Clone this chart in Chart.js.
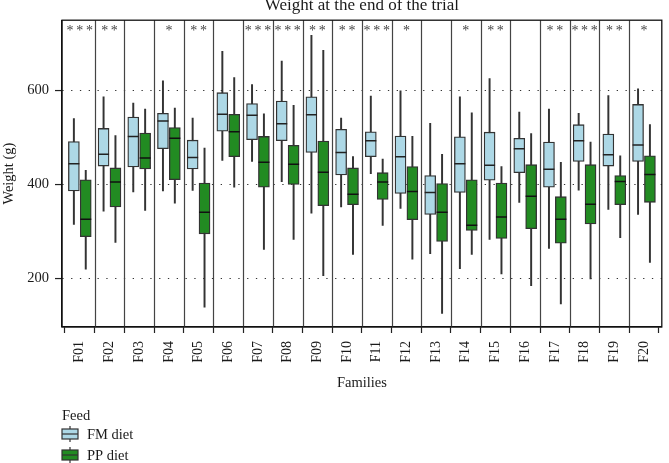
<!DOCTYPE html>
<html>
<head>
<meta charset="utf-8">
<script src="https://cdn.jsdelivr.net/npm/chart.js@4.4.1/dist/chart.umd.min.js"></script>
<style>
  html, body { margin: 0; padding: 0; background: #fff; }
  #wrap { width: 669px; height: 463px; }
</style>
</head>
<body>
<div id="wrap"><canvas id="weightChart" width="669" height="463"></canvas></div>
<script>
// data
const families = ['F01','F02','F03','F04','F05','F06','F07','F08','F09','F10',
                  'F11','F12','F13','F14','F15','F16','F17','F18','F19','F20'];

// FM diet: whisker low, Q1, median, Q3, whisker high
const fmLow  = [315, 343, 384, 386, 387, 451, 449, 406, 339, 352, 423, 349, 253, 221, 283, 362, 264, 388, 347, 336];
const fmQ1   = [386, 439, 437, 476, 433, 513, 495, 493, 468, 420, 459, 381, 336, 383, 409, 425, 394, 449, 439, 449];
const fmMed  = [444, 464, 502, 535, 457, 549, 547, 529, 548, 468, 493, 459, 383, 444, 441, 476, 432, 493, 463, 484];
const fmQ3   = [491, 519, 543, 551, 494, 595, 572, 577, 586, 517, 512, 503, 419, 501, 511, 498, 490, 527, 507, 570];
const fmHigh = [540, 586, 573, 620, 541, 683, 612, 662, 717, 541, 588, 599, 530, 586, 625, 554, 560, 551, 589, 603];

// PP diet
const ppLow  = [220, 277, 345, 360, 139, 394, 262, 283, 206, 251, 313, 241, 126, 251, 210, 185, 146, 199, 287, 234];
const ppQ1   = [289, 352, 433, 410, 295, 459, 394, 400, 355, 357, 368, 325, 279, 302, 285, 306, 275, 316, 357, 362];
const ppMed  = [326, 405, 456, 498, 341, 512, 447, 443, 426, 379, 405, 385, 341, 313, 331, 375, 326, 358, 406, 421];
const ppQ3   = [410, 435, 509, 521, 403, 549, 502, 483, 492, 435, 425, 438, 402, 410, 403, 442, 374, 442, 419, 461];
const ppHigh = [430, 504, 560, 562, 477, 627, 550, 568, 685, 459, 454, 502, 464, 552, 438, 508, 447, 490, 461, 527];

const stars  = ['***','**','','*','**','','***','***','**','**','***','*','','*','**','','**','***','**','*'];
const yTicks = [200, 400, 600];

const FM_COL = '#ADD8E6';
const PP_COL = '#228B22';
const EDGE = '#333333';
const DODGE = 0.2;

Chart.defaults.font.family = "'Liberation Serif', 'DejaVu Serif', serif";
Chart.defaults.color = '#1a1a1a';

const pos = (i, side) => i + 1 + side * DODGE;

function whiskers(lo, hi, side) {
  return families.map((f, i) => ({ x: pos(i, side), y: [lo[i], hi[i]] }));
}
function boxes(q1, q3, side) {
  return families.map((f, i) => ({ x: pos(i, side), y: [q1[i], q3[i]] }));
}
function medians(med, side) {
  return families.map((f, i) => ({ x: pos(i, side), y: med[i] }));
}

// separators, panel frame, significance stars and the legend
const decorations = {
  id: 'decorations',
  beforeDatasetsDraw(chart) {
    const { ctx, chartArea: a, scales: { x } } = chart;
    ctx.save();
    ctx.strokeStyle = '#444';
    ctx.lineWidth = 1.2;
    for (let i = 1; i < families.length; i++) {
      const px = Math.round(x.getPixelForValue(i + 0.5)) + 0.5;
      ctx.beginPath();
      ctx.moveTo(px, a.top);
      ctx.lineTo(px, a.bottom);
      ctx.stroke();
    }
    ctx.restore();
  },
  afterDatasetsDraw(chart) {
    const { ctx, chartArea: a, scales: { x } } = chart;
    ctx.save();
    ctx.strokeStyle = '#111';
    ctx.lineWidth = 1.3;
    ctx.strokeRect(a.left, a.top, a.right - a.left, a.bottom - a.top);

    ctx.fillStyle = '#444';
    ctx.font = "14px 'Liberation Serif'";
    ctx.textAlign = 'center';
    ctx.textBaseline = 'alphabetic';
    stars.forEach((s, i) => {
      const cx = x.getPixelForValue(i + 1);
      const n = s.length;
      for (let k = 0; k < n; k++) {
        ctx.fillText('*', cx + (k - (n - 1) / 2) * 9.7, a.top + 15);
      }
    });
    ctx.restore();
  },
  afterDraw(chart) {
    const { ctx } = chart;
    ctx.save();
    ctx.fillStyle = '#1a1a1a';
    ctx.font = "14.5px 'Liberation Serif'";
    ctx.textAlign = 'left';
    ctx.textBaseline = 'alphabetic';
    ctx.fillText('Feed', 62, 420);
    const items = [['FM diet', FM_COL, 439], ['PP diet', PP_COL, 460]];
    items.forEach(([label, col, base]) => {
      const top = base - 10, h = 10, l = 62, w = 16;
      ctx.strokeStyle = EDGE;
      ctx.lineWidth = 1.2;
      ctx.beginPath();
      ctx.moveTo(l + w / 2, top - 3);
      ctx.lineTo(l + w / 2, top + h + 3);
      ctx.stroke();
      ctx.fillStyle = col;
      ctx.fillRect(l, top, w, h);
      ctx.strokeRect(l, top, w, h);
      ctx.beginPath();
      ctx.moveTo(l, top + h / 2);
      ctx.lineTo(l + w, top + h / 2);
      ctx.stroke();
      ctx.fillStyle = '#1a1a1a';
      ctx.fillText(label, 87, base);
    });
    ctx.restore();
  }
};

const ctx = document.getElementById('weightChart').getContext('2d');
new Chart(ctx, {
  type: 'bar',
  data: {
    datasets: [
      { label: 'FM whisker', data: whiskers(fmLow, fmHigh, -1), backgroundColor: EDGE,
        barThickness: 1.3, grouped: false, order: 3 },
      { label: 'PP whisker', data: whiskers(ppLow, ppHigh, 1), backgroundColor: EDGE,
        barThickness: 1.3, grouped: false, order: 3 },
      { label: 'FM diet', data: boxes(fmQ1, fmQ3, -1), backgroundColor: FM_COL,
        borderColor: EDGE, borderWidth: 1.3, borderSkipped: false,
        barThickness: 11, grouped: false, order: 2 },
      { label: 'PP diet', data: boxes(ppQ1, ppQ3, 1), backgroundColor: PP_COL,
        borderColor: EDGE, borderWidth: 1.3, borderSkipped: false,
        barThickness: 11, grouped: false, order: 2 },
      { type: 'line', label: 'FM median', data: medians(fmMed, -1), showLine: false,
        pointStyle: 'line', pointRadius: 5.5, pointBorderWidth: 1.5,
        pointBorderColor: '#222', order: 1 },
      { type: 'line', label: 'PP median', data: medians(ppMed, 1), showLine: false,
        pointStyle: 'line', pointRadius: 5.5, pointBorderWidth: 1.5,
        pointBorderColor: '#111', order: 1 }
    ]
  },
  options: {
    responsive: false,
    animation: false,
    events: [],
    layout: { padding: { top: 0, left: 0, right: 1, bottom: 71 } },
    plugins: {
      legend: { display: false },
      tooltip: { enabled: false },
      title: {
        display: true,
        fullSize: false,
        text: 'Weight at the end of the trial',
        color: '#1a1a1a',
        font: { size: 17, weight: 'normal', lineHeight: 0.6 },
        padding: { top: 0, bottom: 10 },
        align: 'center'
      }
    },
    scales: {
      x: {
        type: 'linear',
        offset: false,
        min: 0.4,
        max: 20.6,
        afterBuildTicks(s) { s.ticks = families.map((f, i) => ({ value: i + 1 })); },
        afterFit(s) { s.height = 65; },
        ticks: {
          autoSkip: false,
          minRotation: 90,
          maxRotation: 90,
          padding: 8,
          color: '#1a1a1a',
          font: { size: 14 },
          callback: (v) => families[Math.round(v) - 1]
        },
        grid: { drawOnChartArea: false, drawTicks: true, tickLength: 6, tickColor: '#222', tickWidth: 1.2 },
        border: { display: true, color: '#111', width: 1.3 },
        title: { display: true, text: 'Families', color: '#1a1a1a', font: { size: 14.5 }, padding: 0 }
      },
      y: {
        min: 97,
        max: 749,
        afterBuildTicks(s) { s.ticks = yTicks.map(v => ({ value: v })); },
        afterFit(s) { s.width = 62; },
        ticks: { padding: 6, color: '#1a1a1a', font: { size: 14.5 } },
        grid: { color: '#333', lineWidth: 1.1, drawTicks: true, tickLength: 7,
                tickColor: '#222', tickWidth: 1.2, tickBorderDash: [] },
        border: { display: true, color: '#111', width: 1.3, dash: [1.3, 7.5] },
        title: { display: true, text: 'Weight (g)', color: '#1a1a1a', font: { size: 14.5 }, padding: 0 }
      }
    }
  },
  plugins: [decorations]
});
</script>
</body>
</html>
